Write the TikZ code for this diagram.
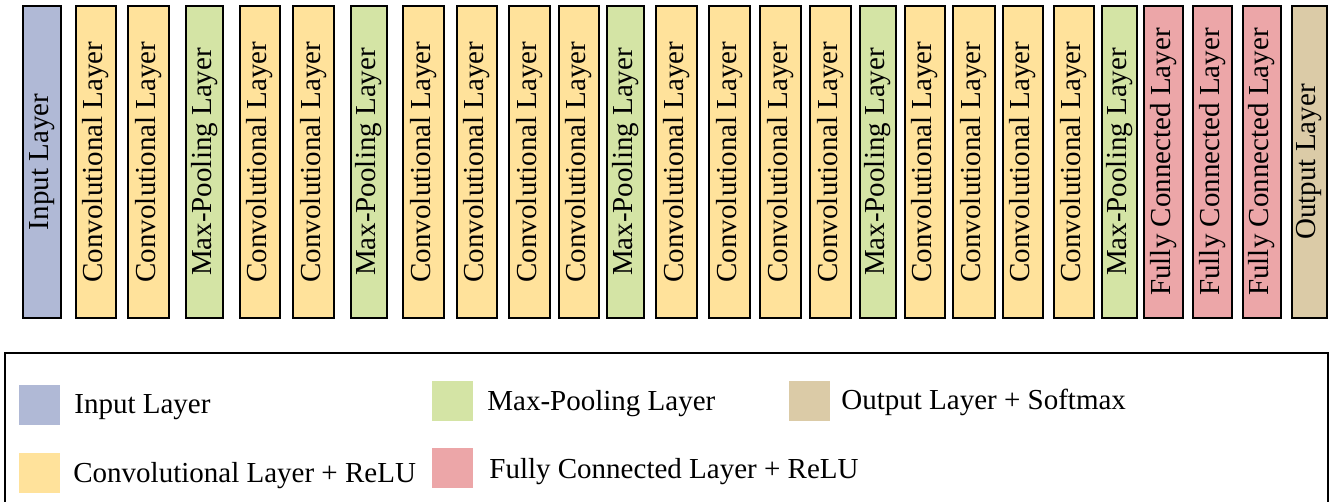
\documentclass[tikz,border=0pt]{standalone}
\usepackage{fontspec}
\setmainfont{Liberation Serif}
\definecolor{inputc}{RGB}{176,185,214}
\definecolor{convc}{RGB}{255,226,155}
\definecolor{poolc}{RGB}{212,228,165}
\definecolor{fcc}{RGB}{236,166,168}
\definecolor{outc}{RGB}{219,203,167}
\begin{document}
\begin{tikzpicture}[x=0.5pt,y=-0.5pt,
    bar/.style={draw=black,line width=1.1pt},
    barlabel/.style={rotate=90,inner sep=0pt,font=\fontsize{14.5}{17}\selectfont},
    keylabel/.style={anchor=base west,inner sep=0pt,font=\fontsize{14.5}{17}\selectfont}]
    \useasboundingbox (0,0) rectangle (1337,502);
    % layers
    \foreach \a/\b/\c/\t [count=\i] in {
        23/61/inputc/Input Layer, 76/116/convc/Convolutional Layer,
        128/169/convc/Convolutional Layer, 186/223/poolc/Max-Pooling Layer,
        240/280/convc/Convolutional Layer, 293/334/convc/Convolutional Layer,
        351/387/poolc/Max-Pooling Layer, 403/444/convc/Convolutional Layer,
        457/497/convc/Convolutional Layer, 509/550/convc/Convolutional Layer,
        559/599/convc/Convolutional Layer, 607/644/poolc/Max-Pooling Layer,
        656/697/convc/Convolutional Layer, 709/750/convc/Convolutional Layer,
        760/801/convc/Convolutional Layer, 810/851/convc/Convolutional Layer,
        860/896/poolc/Max-Pooling Layer, 905/945/convc/Convolutional Layer,
        953/995/convc/Convolutional Layer, 1003/1043/convc/Convolutional Layer,
        1054/1094/convc/Convolutional Layer, 1102/1137/poolc/Max-Pooling Layer,
        1144/1183/fcc/Fully Connected Layer, 1193/1232/fcc/Fully Connected Layer,
        1243/1281/fcc/Fully Connected Layer, 1292/1327/outc/Output Layer} {
        \draw[bar,fill=\c] (\a,6) rectangle (\b,318);
        \node[barlabel] (layer\i) at ({(\a+\b)/2},162) {\t};
    }
    % legend
    \draw[line width=1pt] (5,353) rectangle (1328,510);
    \fill[inputc] (19,385) rectangle (60,425);
    \node[keylabel] (keyinput) at (74,413) {Input Layer};
    \fill[convc] (19,453) rectangle (60,493);
    \node[keylabel] (keyconv) at (73,482) {Convolutional Layer + ReLU};
    \fill[poolc] (432,381) rectangle (473,421);
    \node[keylabel] (keypool) at (487,410) {Max-Pooling Layer};
    \fill[fcc] (432,448) rectangle (473,488);
    \node[keylabel] (keyfc) at (489,478) {Fully Connected Layer + ReLU};
    \fill[outc] (789,381) rectangle (830,421);
    \node[keylabel] (keyout) at (841,409) {Output Layer + Softmax};
\end{tikzpicture}
\end{document}
